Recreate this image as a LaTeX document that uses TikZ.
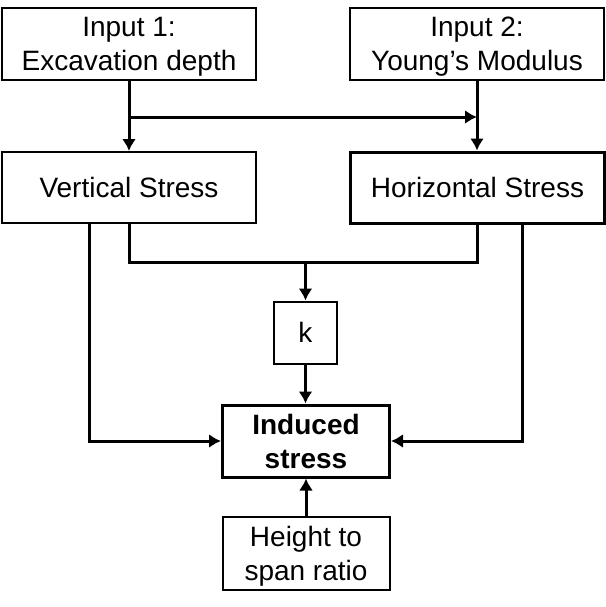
\documentclass[tikz,border=0pt]{standalone}
\usepackage{fontspec}
\setmainfont{Liberation Sans}
\usetikzlibrary{arrows.meta}
\begin{document}
\begin{tikzpicture}[x=0.5pt,y=-0.5pt,
  box/.style={draw, line width=1pt, inner sep=0pt, align=center,
    font=\fontsize{14pt}{17pt}\selectfont},
  thickbox/.style={box, line width=1.5pt},
  conn/.style={line width=1.5pt},
  arr/.style={conn, -{Latex[length=6pt,width=7pt]}}]
\useasboundingbox (0,0) rectangle (606,607);
\node[box, minimum width=127pt, minimum height=36pt, text depth=0pt] (in1) at (129,44) {Input 1:\\Excavation depth};
\node[box, minimum width=127pt, minimum height=36pt, text depth=0pt] (in2) at (477,44) {Input 2:\\Young’s Modulus};
\node[box, minimum width=127pt, minimum height=35.5pt] (vs) at (129,187.5) {Vertical Stress};
\node[thickbox, minimum width=127pt, minimum height=35.5pt] (hs) at (477.5,187.5) {Horizontal Stress};
\node[box, minimum width=31.5pt, minimum height=31pt] (k) at (305.5,332.5) {k};
\node[thickbox, minimum width=83.5pt, minimum height=36pt, font=\fontsize{14pt}{17pt}\selectfont\bfseries] (ind) at (306,441) {Induced\\stress};
\node[box, minimum width=83.5pt, minimum height=36.5pt, text depth=0pt] (hsr) at (306,553.5) {Height to\\span ratio};
\coordinate (j1) at (129,117);
\coordinate (j2) at (477,117);
\coordinate (m1) at (129,262);
\coordinate (m2) at (477,262);
\coordinate (mk) at (305.5,262);
\draw[arr] (in1.south) -- (vs.north);
\draw[arr] (j1) -- (j2);
\draw[arr] (in2.south) -- (hs.north -| in2.south);
\draw[conn] (vs.south) -- (m1) -- (m2) -- (m2 |- hs.south);
\draw[arr] (mk) -- (k.north);
\draw[arr] (k.south) -- (ind.north -| k.south);
\draw[arr] (hsr.north) -- (ind.south);
\draw[arr] ([xshift=-20pt]vs.south) |- (ind.west);
\draw[arr] ([xshift=22.5pt]hs.south) |- (ind.east);
\end{tikzpicture}
\end{document}
